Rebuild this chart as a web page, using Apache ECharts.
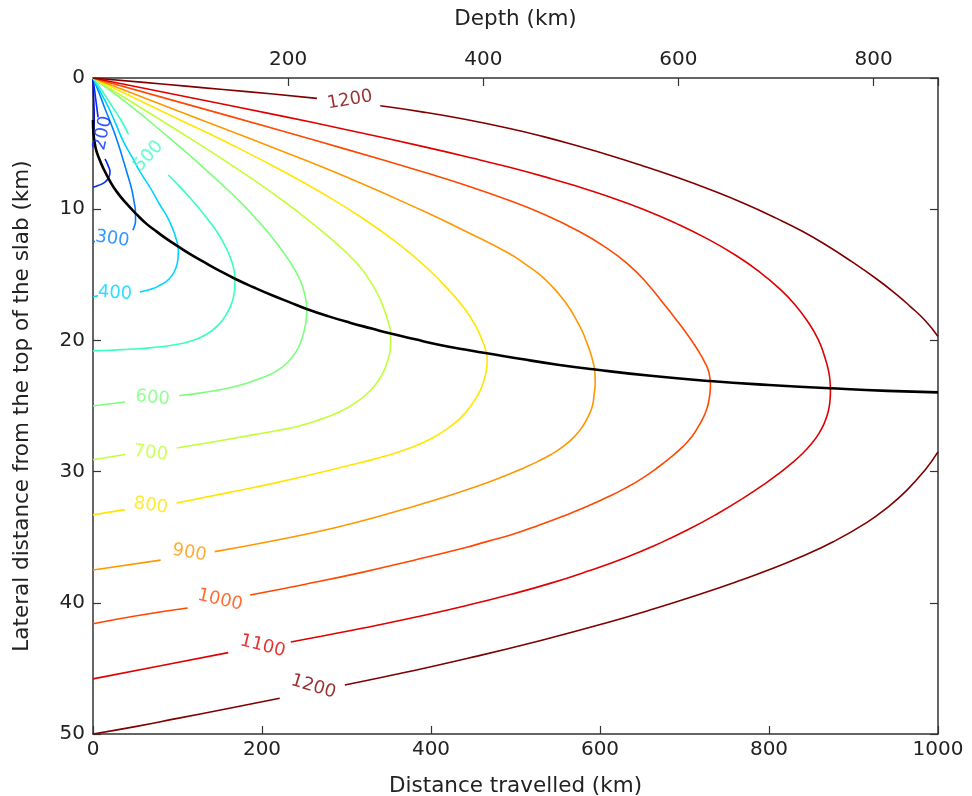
<!DOCTYPE html>
<html><head><meta charset="utf-8">
<script src="https://cdn.jsdelivr.net/npm/echarts@6/dist/echarts.min.js"></script>
<style>html,body{margin:0;padding:0;background:#fff}#c{width:972px;height:796px}</style>
</head><body><div id="c"></div>
<script>
// ---- data ----
const xTicks = [0, 200, 400, 600, 800, 1000];          // distance travelled (km)
const depthTicks = [200, 400, 600, 800];                // depth (km) on the top axis
const depthMax = 866;                                   // depth at distance 1000
const yTicks = [0, 10, 20, 30, 40, 50];                 // lateral distance (km)
const levels = [100, 200, 300, 400, 500, 600, 700, 800, 900, 1000, 1100, 1200];

// contour segments (x = distance km, y = lateral distance km); gaps are where labels sit
const c100 = [[[0,0],[0.8,1.5],[1.4,3.0],[1.2,3.8],[0.5,4.1],[0,4.17]]];
const c200 = [
  [[0,0],[3,1.5],[6,3.0]],
  [[14.2,6.17],[18,6.7],[20.1,7.16],[18.5,7.6],[14.2,7.93],[6,8.2],[0,8.33]]
];
const c300 = [
  [[0,0],[7,1.1],[14,2.3],[22,3.6],[29,4.85],[35,6.1],[41,7.4],[45.5,8.4],[48.5,9.4],[50.3,10.3],[50.3,10.9],[49,11.3],[47,11.6]],
  [[2.4,12.45],[0,12.5]]
];
const c400 = [
  [[0,0],[9,1.1],[18,2.2],[27,3.5],[36,4.85],[46,6.0],[55.6,7.14],[68,8.4],[79.3,9.68],[88,10.6],[95,11.6],[99,12.4],[101,13.1],[100.5,13.8],[98,14.5],[93,15.1],[87,15.5],[79,15.8],[71,16.05],[63,16.2],[55.6,16.3]],
  [[6,16.6],[0,16.67]]
];
const c500 = [
  [[0,0],[12,1.1],[22,2.1],[33,3.2],[42,4.3]],
  [[89,7.39],[103,8.3],[115,9.15],[127,10.05],[138,10.95],[148,11.85],[156,12.75],[162,13.6],[166,14.4],[168,15.3],[167.5,16.2],[164.5,17.1],[158,18.0],[148,18.85],[134,19.55],[116,20.05],[95,20.35],[70,20.55],[48,20.66],[20,20.75],[0,20.8]]
];
const c600 = [
  [[0,0],[40,1.9],[91,4.6],[125,6.5],[154,8.2],[175,9.5],[194,10.8],[215,12.4],[233,14.0],[245,15.4],[251,16.6],[253,17.7],[251.5,18.8],[247,19.9],[240,20.9],[230,21.7],[218,22.3],[202,22.8],[180,23.3],[155,23.7],[128,24.0],[102,24.2]],
  [[38,24.7],[0,25.0]]
];
const c700 = [
  [[0,0],[50,2.0],[100,4.0],[150,6.05],[200,8.2],[240,10.08],[278,12.06],[312,14.1],[332,15.9],[342,17.2],[349,18.5],[352.3,19.6],[352,20.5],[349,21.5],[343,22.5],[334,23.4],[322,24.2],[307,24.9],[290,25.5],[270,26.0],[245,26.5],[220,26.85],[189,27.2],[145,27.7],[99,28.2]],
  [[38,28.7],[0,29.1]]
];
const c800 = [
  [[0,0],[100,3.1],[160,4.96],[221,6.97],[270,8.73],[320,10.73],[360,12.57],[395,14.46],[425,16.44],[440,17.6],[452,18.8],[460,19.9],[465,20.8],[466.5,21.5],[465.5,22.3],[462,23.2],[456,24.1],[447,25.0],[435,25.9],[420,26.7],[400,27.5],[375,28.2],[347,28.8],[317,29.3],[270,30.05],[220,30.8],[160,31.6],[99,32.4]],
  [[38,32.9],[0,33.3]]
];
const c900 = [
  [[0,0],[100,2.5],[221,5.5],[300,7.55],[391,10.14],[445,11.81],[493,13.4],[512,14.2],[529,15.0],[542,15.8],[553,16.6],[564,17.55],[572.5,18.5],[579,19.3],[584,20.1],[588.5,20.9],[592,21.7],[594,22.5],[594.3,23.2],[593,24.1],[591,25.0],[586,25.8],[579,26.6],[569.5,27.35],[557,28.05],[542,28.7],[526,29.24],[510,29.72],[487,30.34],[452,31.18],[413,32.0],[350,33.2],[285,34.3],[215,35.25],[144,36.1]],
  [[80,36.75],[0,37.5]]
];
const c1000 = [
  [[0,0],[100,1.8],[221,3.98],[300,5.44],[391,7.17],[440,8.15],[493,9.34],[535,10.43],[572,11.58],[605,12.83],[632,14.13],[655,15.6],[679,17.5],[690,18.4],[700,19.25],[710,20.17],[718,20.97],[724,21.67],[728,22.25],[730,22.85],[730.7,23.4],[730.2,24.0],[728.8,24.6],[726.5,25.2],[722.5,25.85],[717,26.5],[709,27.3],[698,28.1],[684,28.9],[667,29.75],[649,30.55],[629,31.3],[607,32.0],[583,32.7],[556,33.4],[527,34.1],[496,34.8],[468,35.3],[440,35.8],[380,36.75],[317,37.7],[250,38.6],[186,39.4]],
  [[112,40.4],[50,41.0],[0,41.6]]
];
const c1100 = [
  [[0,0],[100,1.3],[221,2.87],[300,3.94],[391,5.23],[450,6.12],[493,6.81],[540,7.63],[572,8.24],[610,9.04],[651,10.0],[690,11.08],[730,12.36],[762,13.57],[789,14.79],[812,16.03],[830,17.22],[846,18.58],[858,19.9],[865.7,21.2],[870.4,22.3],[872.3,23.2],[872.7,23.9],[872,24.7],[869.8,25.5],[865.5,26.3],[859,27.1],[850.5,27.85],[840,28.6],[827,29.35],[812,30.13],[795,30.93],[770,32.0],[740,33.17],[705,34.4],[670,35.48],[630,36.56],[585,37.6],[542,38.5],[495,39.35],[440,40.24],[381,41.1],[320,41.92],[270,42.55],[234,42.99]],
  [[160,43.8],[80,44.8],[0,45.8]]
];
const c1200 = [
  [[0,0],[60,0.33],[110,0.62],[154,0.88],[210,1.2],[265,1.55]],
  [[340,2.12],[391,2.6],[440,3.15],[493,3.85],[532,4.45],[572,5.15],[612,5.9],[651,6.7],[690,7.55],[730,8.5],[770,9.55],[809,10.7],[840,11.7],[868,12.75],[898,14.0],[927,15.3],[950,16.45],[967,17.4],[985,18.5],[1000,19.7]],
  [[1000,28.5],[985,29.85],[963,31.43],[940,32.74],[916,33.87],[876,35.35],[838,36.49],[797,37.56],[760,38.43],[718,39.35],[665,40.44],[606,41.56],[530,42.87],[445,44.21],[370,45.3],[298,46.27]],
  [[221,47.27],[160,48.05],[100,48.81],[50,49.44],[0,50]]
];
// black curve (locus of the coldest point across the slab)
const slabCore = [[0,3.2],[0.4,4.09],[3,5.3],[7,6.1],[12.2,6.88],[20,7.85],[28,8.66],[40,9.6],[51.7,10.4],[63,11.1],[75.4,11.71],[88,12.3],[101,12.85],[117,13.5],[134.5,14.15],[150,14.7],[168,15.3],[190,15.95],[213.4,16.6],[233,17.1],[252.9,17.6],[278,18.15],[304,18.65],[330,19.1],[353.5,19.5],[380,19.9],[410.7,20.35],[440,20.7],[467.9,21.0],[505,21.4],[550,21.85],[592,22.2],[660,22.7],[730,23.1],[800,23.4],[872,23.65],[940,23.85],[1000,23.96]];

// inline contour labels: [level, x, y, rotation]
const contourLabels = [
  [200, 11.8, 4.2, 78], [300, 22.9, 12.27, -8], [400, 26, 16.4, -4], [500, 65.5, 5.95, 48],
  [600, 70.6, 24.4, -6], [700, 68.3, 28.6, -6], [800, 68.3, 32.6, -8], [900, 114, 36.2, -10],
  [1000, 150.3, 39.8, -13], [1100, 200.8, 43.3, -14], [1200, 260.7, 46.4, -17], [1200, 304, 1.68, 10]
];

// ---- styles ----
const colors = {100:'#0000e0',200:'#002bff',300:'#0080ff',400:'#00d5ff',500:'#37ffc0',600:'#7bff7b',
  700:'#c0ff37',800:'#ffe600',900:'#ff9700',1000:'#ff4800',1100:'#e00000',1200:'#800000'};
const contours = {100:c100,200:c200,300:c300,400:c400,500:c500,600:c600,700:c700,800:c800,900:c900,1000:c1000,1100:c1100,1200:c1200};
const FONT = 'DejaVu Sans';
const axisCol = '#333';

const series = [];
levels.forEach(lv => {
  contours[lv].forEach(seg => {
    series.push({type:'line', xAxisIndex:0, yAxisIndex:0, data:seg, showSymbol:false, smooth:0.5,
      lineStyle:{color:colors[lv], width:1.6}, silent:true, z:2});
  });
});
series.push({type:'line', xAxisIndex:0, yAxisIndex:0, data:slabCore, showSymbol:false, smooth:0.5,
  lineStyle:{color:'#000', width:2.6}, silent:true, z:3});
series.push({type:'scatter', xAxisIndex:0, yAxisIndex:0, symbolSize:0, silent:true, z:4,
  data: contourLabels.map(l => ({value:[l[1], l[2]],
    label:{show:true, position:'inside', formatter:String(l[0]), rotate:l[3],
      color:colors[l[0]], fontSize:18, fontFamily:FONT}}))});

const baseAxis = {
  axisLine:{show:true, onZero:false, lineStyle:{color:axisCol, width:1.5}},
  axisTick:{show:true, inside:true, length:8, lineStyle:{color:axisCol, width:1.2}},
  splitLine:{show:false},
  axisLabel:{fontSize:20, fontFamily:FONT, color:'#222', formatter: v => String(v)},
  nameTextStyle:{fontSize:21.5, fontFamily:FONT, color:'#222'}
};

const chart = echarts.init(document.getElementById('c'));
chart.setOption({
  animation:false,
  backgroundColor:'#fff',
  grid:{left:93, right:34, top:78, bottom:62, containLabel:false, outerBoundsMode:'none'},
  xAxis:[
    Object.assign({}, baseAxis, {type:'value', position:'bottom', min:xTicks[0], max:xTicks[xTicks.length-1],
      interval:xTicks[1]-xTicks[0], name:'Distance travelled (km)', nameLocation:'middle', nameGap:41,
      axisLabel:Object.assign({}, baseAxis.axisLabel, {margin:6})}),
    Object.assign({}, baseAxis, {type:'value', position:'top', min:0, max:depthMax,
      interval:depthTicks[1]-depthTicks[0], name:'Depth (km)', nameLocation:'middle', nameGap:48,
      axisLabel:Object.assign({}, baseAxis.axisLabel, {margin:8,
        formatter: v => depthTicks.indexOf(v) >= 0 ? String(v) : ''})})
  ],
  yAxis:[
    Object.assign({}, baseAxis, {type:'value', position:'left', inverse:true, min:yTicks[0], max:yTicks[yTicks.length-1],
      interval:yTicks[1]-yTicks[0], name:'Lateral distance from the top of the slab (km)', nameLocation:'middle',
      nameGap:60, nameRotate:90, axisLabel:Object.assign({}, baseAxis.axisLabel, {margin:8})}),
    Object.assign({}, baseAxis, {type:'value', position:'right', inverse:true, min:yTicks[0], max:yTicks[yTicks.length-1],
      interval:yTicks[1]-yTicks[0], axisLabel:{show:false}})
  ],
  series: series
});
</script></body></html>
